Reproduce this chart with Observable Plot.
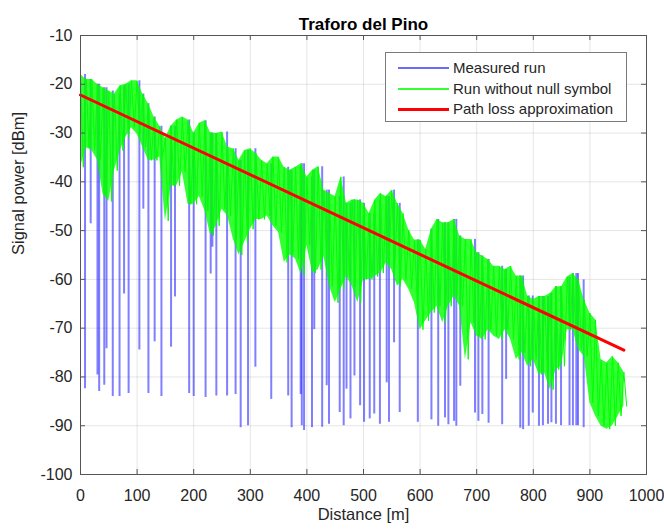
<!DOCTYPE html>
<html>
<head>
<meta charset="utf-8">
<script src="https://cdn.jsdelivr.net/npm/d3@7"></script>
<script src="https://cdn.jsdelivr.net/npm/@observablehq/plot@0.6"></script>
<style>
  html, body { margin: 0; padding: 0; background: #fff; }
  #wrap { position: relative; width: 664px; height: 529px; font-family: "Liberation Sans", Arial, sans-serif; }
  #legend { position: absolute; left: 385px; top: 52px; width: 240px; height: 68px; border: 1px solid #7a7a7a; background: #fff; font-size: 15px; color: #262626; }
  .row { position: absolute; left: 0; height: 20px; width: 240px; }
  .sw { position: absolute; left: 12px; width: 51px; }
  .lb { position: absolute; left: 67px; top: 1px; line-height: 18px; white-space: nowrap; }
</style>
</head>
<body>
<div id="wrap"></div>
<script>
// ---- data ----
const title = "Traforo del Pino";
const xLabel = "Distance [m]";
const yLabel = "Signal power [dBm]";
const xTicks = [0, 100, 200, 300, 400, 500, 600, 700, 800, 900, 1000];
const yTicks = [-100, -90, -80, -70, -60, -50, -40, -30, -20, -10];
const seriesNames = ["Measured run", "Run without null symbol", "Path loss approximation"];

// "Run without null symbol" — envelope per 10 m bin (upper / lower excursions)
const greenDist = [0,10,20,30,40,50,60,70,80,90,100,110,120,130,140,150,160,170,180,190,
  200,210,220,230,240,250,260,270,280,290,300,310,320,330,340,350,360,370,380,390,
  400,410,420,430,440,450,460,470,480,490,500,510,520,530,540,550,560,570,580,590,
  600,610,620,630,640,650,660,670,680,690,700,710,720,730,740,750,760,770,780,790,
  800,810,820,830,840,850,860,870,880,890,900,910,920,930,940,950,960];
const greenHigh = [-18,-19,-19,-20,-20.7,-21.4,-22,-20.3,-20,-19.3,-19.3,-22,-24,-26.7,-28.6,-31,-28.6,-27.3,-26.7,-27.3,
  -30,-28,-27.5,-30,-30.1,-29.8,-32.9,-33.2,-35.6,-33.6,-33.2,-34.2,-35.6,-36.3,-34.9,-34.9,-37,-37.6,-37,-36.3,
  -39,-37.6,-36.9,-41.7,-42.4,-43,-39,-44.4,-43.7,-43.7,-44.4,-46.5,-43.7,-42.4,-43,-41.7,-44.4,-46.5,-49.9,-51.9,
  -51.9,-53.8,-49.7,-47.7,-48.4,-48.4,-47.7,-51.1,-51.8,-51.8,-54.5,-55.2,-55.9,-57.3,-57.3,-58,-57.3,-59.3,-59.3,-63.4,
  -64.1,-63.5,-63.5,-62.9,-61.5,-61.5,-59.5,-58.8,-60.1,-64.2,-66.9,-68.3,-76.5,-77.1,-75.8,-77.1,-79];
const greenLow = [-37,-33,-33.5,-35.5,-42.6,-44,-37.7,-33.6,-30.9,-28.9,-30.2,-32.9,-35.6,-35.6,-34.9,-48,-40.8,-40.8,-38,-44.6,
  -44.6,-43,-46,-51,-49,-45.6,-47,-51.7,-55,-52.4,-49.7,-47.7,-47.7,-47,-49,-50.4,-56.5,-55,-55.8,-59,
  -53,-58.7,-58,-55.3,-61.4,-64.8,-62,-59.4,-61.4,-64.8,-60,-60,-59.4,-58.7,-56.7,-58,-61.4,-60,-62,-64.8,
  -70.3,-68.5,-66.8,-65.5,-68.9,-65.5,-63.4,-65.5,-76.4,-68.9,-71.6,-72.3,-70.3,-71.6,-72.3,-70.3,-72.3,-76.4,-75,-77.8,
  -76.4,-79.5,-79.2,-82.6,-78.5,-77.8,-70.3,-70.3,-74.4,-75.8,-85.3,-88,-90.1,-90.7,-90,-88,-86];

// "Measured run" — null-symbol drop-outs: position and depth
const dipDist = [8,18,30,33,42,46,57,69,77,85,104,111,120,131,143,160,167,192,200,
  221,230,233,240,259,274,283,296,309,337,367,373,389,391,395,409,
  413,427,435,439,458,465,470,477,484,494,501,511,519,529,541,545,554,564,596,
  620,632,644,650,660,664,671,697,703,710,721,745,752,777,782,792,799,810,
  817,826,832,840,849,864,870,876,879,889];
const dipDepth = [-82.4,-48.6,-79.6,-83,-81.7,-74.2,-84,-84,-63,-83.4,-74.5,-45.6,-83.4,-72.8,-84,-73.9,-63.6,-83.4,-84,
  -84.2,-58.9,-53.4,-83.9,-83.9,-83.6,-90.4,-90,-78,-84.6,-83.9,-90.4,-83.6,-90,-91,-90.4,
  -70.3,-90.3,-81.8,-89.7,-87.3,-90,-82.5,-88.6,-79.8,-85.9,-89.3,-88.6,-87.6,-89.7,-81.2,-89.3,-73,-87.3,-89.3,
  -88.8,-90.1,-88.4,-89.8,-89.1,-90.1,-81.9,-87.4,-89.1,-87.7,-89.5,-89.8,-80.5,-90.5,-90.8,-90.1,-87.4,-90.1,
  -90,-89.7,-89.4,-89.7,-90,-90,-90,-90,-90,-90.4];

// "Path loss approximation" — straight fit end points
const pathDist = [0, 960];
const pathPower = [-22.2, -74.5];

// ---- tables built from the arrays ----
const green = greenDist.map((d, i) => ({d, hi: greenHigh[i], lo: greenLow[i]}));
const zig = green.flatMap(g => [{d: g.d, v: g.hi}, {d: g.d + 5, v: g.lo}]);
const hiAt = d => green[Math.min(green.length - 1, Math.floor(d / 10))].hi;
const dips = dipDist.map((d, i) => ({d, bottom: dipDepth[i], top: hiAt(d)}));
const path = pathDist.map((d, i) => ({d, v: pathPower[i]}));

const plotH = 529 - 35 - 55, plotW = 664 - 80 - 18;
const fmt = d => String(d);

const chart = Plot.plot({
  width: 664,
  height: 529,
  marginTop: 35,
  marginBottom: 55,
  marginLeft: 80,
  marginRight: 18,
  style: {fontFamily: "'Liberation Sans', Arial, sans-serif", fontSize: "16px", color: "#262626", background: "#fff"},
  x: {domain: [0, 1000], label: null},
  y: {domain: [-100, -10], label: null},
  marks: [
    Plot.gridX(xTicks, {stroke: "#000", strokeOpacity: 0.1}),
    Plot.gridY(yTicks, {stroke: "#000", strokeOpacity: 0.1}),
    Plot.ruleX(dips, {x: "d", y1: "bottom", y2: "top", stroke: "#0000ff", strokeOpacity: 0.5, strokeWidth: 2}),
    Plot.areaY(green, {x: "d", y1: "lo", y2: "hi", fill: "#00ff00", fillOpacity: 0.8}),
    Plot.line(zig, {x: "d", y: "v", stroke: "#00ff00", strokeWidth: 1}),
    Plot.line(path, {x: "d", y: "v", stroke: "#ff0000", strokeWidth: 3}),
    Plot.frame({stroke: "#555"}),
    Plot.tickX(xTicks, {x: d => d, insetTop: plotH - 5, stroke: "#555"}),
    Plot.tickX(xTicks, {x: d => d, insetBottom: plotH - 5, stroke: "#555"}),
    Plot.tickY(yTicks, {y: d => d, insetRight: plotW - 5, stroke: "#555"}),
    Plot.tickY(yTicks, {y: d => d, insetLeft: plotW - 5, stroke: "#555"}),
    Plot.axisX(xTicks, {tickSize: 0, tickPadding: 15, tickFormat: fmt, label: null}),
    Plot.axisY(yTicks, {tickSize: 0, tickPadding: 8, tickFormat: fmt, label: null}),
    Plot.text([xLabel], {text: d => d, frameAnchor: "bottom", dy: 45, fontSize: 16.5, fill: "#262626"}),
    Plot.text([yLabel], {text: d => d, frameAnchor: "left", rotate: -90, dx: -62, fontSize: 16.5, fill: "#262626"}),
    Plot.text([title], {text: d => d, frameAnchor: "top", dy: -18, fontSize: 17, fontWeight: "bold", fill: "#000"})
  ]
});

const wrap = document.getElementById("wrap");
wrap.appendChild(chart);

// legend (HTML overlay)
const colors = ["#6a6aff", "#33ff33", "#ff0000"];
const widths = [2, 2, 3];
const legend = document.createElement("div");
legend.id = "legend";
seriesNames.forEach((name, i) => {
  const row = document.createElement("div");
  row.className = "row";
  row.style.top = (5 + i * 20.5) + "px";
  const sw = document.createElement("div");
  sw.className = "sw";
  sw.style.top = (10 - widths[i] / 2) + "px";
  sw.style.height = widths[i] + "px";
  sw.style.background = colors[i];
  const lb = document.createElement("div");
  lb.className = "lb";
  lb.textContent = name;
  row.appendChild(sw);
  row.appendChild(lb);
  legend.appendChild(row);
});
wrap.appendChild(legend);
</script>
</body>
</html>
